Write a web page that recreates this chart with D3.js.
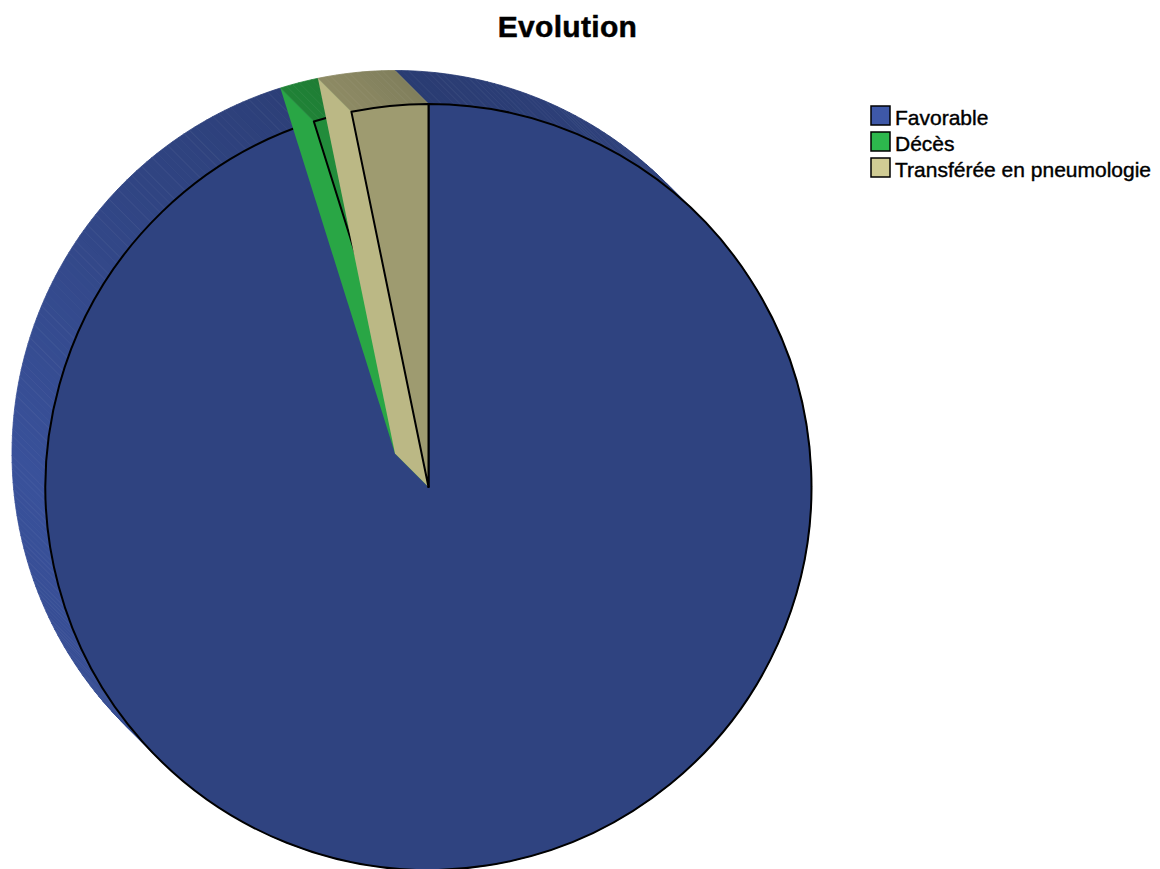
<!DOCTYPE html>
<html>
<head>
<meta charset="utf-8">
<style>
  html, body { margin: 0; padding: 0; background: #fff; overflow: hidden; }
  svg { display: block; }
  text { font-family: "Liberation Sans", Arial, sans-serif; fill: #000; }
</style>
<script src="https://cdnjs.cloudflare.com/ajax/libs/d3/7.8.5/d3.min.js"></script>
</head>
<body>
<svg id="chart" width="1160" height="869"></svg>
<script>
const chartTitle = "Evolution";
const categories = ["Favorable", "Décès", "Transférée en pneumologie"];
const counts = [59, 1, 2];
const baseColors = ["#3e58a8", "#2db84d", "#d0cc94"];

const cx = 428.5, cy = 487, radius = 383;
// the extruded back of the pie sits up and to the left
const depth = 33.5;
const frontShade = 0.76, sideShade = 0.9;

const svg = d3.select("#chart");

// brightness of the outer wall, by clock angle in degrees
const wallShade = d3.scaleLinear()
    .domain([0, 45, 180, 225, 270, 290, 315, 340, 360])
    .range([0.68, 0.74, 0.78, 0.86, 0.92, 0.86, 0.78, 0.72, 0.62]);

function shaded(color, k) {
    const c = d3.rgb(color);
    return d3.rgb(c.r * k, c.g * k, c.b * k).formatHex();
}

function point(angle, r, off) {
    return [cx - off + r * Math.sin(angle), cy - off - r * Math.cos(angle)];
}

const slices = d3.pie().sort(null)(counts).map((d, i) => ({ ...d, color: baseColors[i] }));
const arc = d3.arc().innerRadius(0).outerRadius(radius);
const line = d3.line();

// split the outer wall of a slice into thin quads, each with its own shade
function wallSteps(s) {
    const n = Math.max(1, Math.round((s.endAngle - s.startAngle) / (Math.PI / 180)));
    return d3.range(n).map(i => {
        const a0 = s.startAngle + (s.endAngle - s.startAngle) * i / n;
        const a1 = s.startAngle + (s.endAngle - s.startAngle) * (i + 1) / n;
        return { a0, a1, color: shaded(s.color, wallShade((a0 + a1) / 2 * 180 / Math.PI)) };
    });
}

function drawSlice(s) {
    const g = svg.append("g");
    // outer wall
    g.selectAll("path.wall").data(wallSteps(s)).join("path")
        .attr("class", "wall")
        .attr("d", d => line([point(d.a0, radius, 0), point(d.a1, radius, 0), point(d.a1, radius, depth), point(d.a0, radius, depth)]) + "Z")
        .attr("fill", d => d.color)
        .attr("stroke", d => d.color)
        .attr("stroke-width", 0.8);
    // face
    g.append("path")
        .attr("transform", `translate(${cx},${cy})`)
        .attr("d", arc(s))
        .attr("fill", shaded(s.color, frontShade));
    // radial wall on the left edge of the narrow slices
    if (s.index > 0) {
        g.append("path")
            .attr("d", line([point(0, 0, 0), point(s.startAngle, radius, 0), point(s.startAngle, radius, depth), point(0, 0, depth)]) + "Z")
            .attr("fill", shaded(s.color, sideShade));
    }
    // outline
    g.append("path")
        .attr("transform", `translate(${cx},${cy})`)
        .attr("d", arc(s))
        .attr("fill", "none")
        .attr("stroke", "#000")
        .attr("stroke-width", 2)
        .attr("stroke-linejoin", "round");
}

slices.forEach(drawSlice);

svg.append("text")
    .attr("x", 567.5)
    .attr("y", 37)
    .attr("text-anchor", "middle")
    .attr("font-size", 30)
    .attr("font-weight", "bold")
    .attr("letter-spacing", 0.3)
    .attr("stroke", "#000")
    .attr("stroke-width", 0.5)
    .text(chartTitle);

const legendY = d3.scalePoint().domain(categories).range([115.5, 167.5]);

const legend = svg.append("g").selectAll("g").data(categories).join("g")
    .attr("transform", d => `translate(871,${legendY(d)})`);
legend.append("rect")
    .attr("x", 0).attr("y", -9.5)
    .attr("width", 19).attr("height", 19)
    .attr("fill", (d, i) => baseColors[i])
    .attr("stroke", "#000")
    .attr("stroke-width", 1.5);
legend.append("text")
    .attr("x", 24).attr("y", 9.5)
    .attr("font-size", 21)
    .attr("stroke", "#000")
    .attr("stroke-width", 0.4)
    .text(d => d);
</script>
</body>
</html>
